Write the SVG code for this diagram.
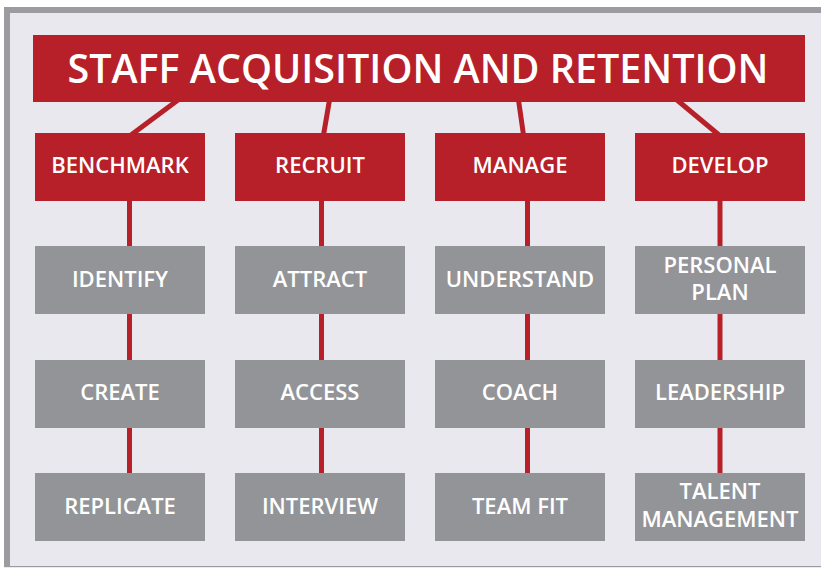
<svg xmlns="http://www.w3.org/2000/svg" width="821" height="569" viewBox="0 0 821 569">
  <style>
    .frame { fill: #e9e8ee; }
    .edge { fill: #9c9ba0; }
    .head { fill: #b72028; }
    .item { fill: #939497; }
    .link { stroke: #b72028; stroke-width: 5; fill: none; }
    .lbl { font-family: "Open Sans", "Liberation Sans", sans-serif; font-weight: 600; fill: #ffffff; text-anchor: middle; }
    .t1 { font-size: 39px; }
    .t2 { font-size: 22px; }
  </style>

  <!-- page and frame -->
  <rect x="0" y="0" width="821" height="569" fill="#ffffff"/>
  <rect class="frame" x="4" y="7" width="817" height="560"/>
  <rect class="edge" x="4" y="7" width="817" height="6"/>
  <rect class="edge" x="4" y="7" width="6" height="560"/>
  <rect class="edge" x="4" y="566" width="817" height="1.2"/>

  <!-- connectors -->
  <g id="connectors">
    <line class="link" x1="178" y1="100" x2="131" y2="135"/>
    <line class="link" x1="329.5" y1="100" x2="323.5" y2="135"/>
    <line class="link" x1="518.5" y1="100" x2="523.5" y2="135"/>
    <line class="link" x1="677" y1="100" x2="719" y2="135"/>
    <line class="link" x1="129.5" y1="200" x2="129.5" y2="475"/>
    <line class="link" x1="321.5" y1="200" x2="321.5" y2="475"/>
    <line class="link" x1="527.5" y1="200" x2="527.5" y2="475"/>
    <line class="link" x1="720" y1="200" x2="720" y2="475"/>
  </g>

  <!-- title -->
  <g id="title">
    <rect class="head" x="33" y="35" width="772" height="67"/>
    <text class="lbl t1" x="418" y="82.7" textLength="701" lengthAdjust="spacingAndGlyphs">STAFF ACQUISITION AND RETENTION</text>
  </g>

  <!-- column heads -->
  <g id="benchmark">
    <rect class="head" x="35" y="133" width="170" height="68"/>
    <text class="lbl t2" x="120" y="173">BENCHMARK</text>
  </g>
  <g id="recruit">
    <rect class="head" x="235" y="133" width="170" height="68"/>
    <text class="lbl t2" x="320" y="173">RECRUIT</text>
  </g>
  <g id="manage">
    <rect class="head" x="435" y="133" width="170" height="68"/>
    <text class="lbl t2" x="520" y="173">MANAGE</text>
  </g>
  <g id="develop">
    <rect class="head" x="635" y="133" width="170" height="68"/>
    <text class="lbl t2" x="720" y="173">DEVELOP</text>
  </g>

  <!-- row 2 -->
  <g id="identify">
    <rect class="item" x="35" y="246" width="170" height="68"/>
    <text class="lbl t2" x="120" y="287">IDENTIFY</text>
  </g>
  <g id="attract">
    <rect class="item" x="235" y="246" width="170" height="68"/>
    <text class="lbl t2" x="320" y="287">ATTRACT</text>
  </g>
  <g id="understand">
    <rect class="item" x="435" y="246" width="170" height="68"/>
    <text class="lbl t2" x="520" y="287">UNDERSTAND</text>
  </g>
  <g id="personal-plan">
    <rect class="item" x="635" y="246" width="170" height="68"/>
    <text class="lbl t2" x="720" y="272.7">PERSONAL</text>
    <text class="lbl t2" x="720" y="300">PLAN</text>
  </g>

  <!-- row 3 -->
  <g id="create">
    <rect class="item" x="35" y="360" width="170" height="68"/>
    <text class="lbl t2" x="120" y="400">CREATE</text>
  </g>
  <g id="access">
    <rect class="item" x="235" y="360" width="170" height="68"/>
    <text class="lbl t2" x="320" y="400">ACCESS</text>
  </g>
  <g id="coach">
    <rect class="item" x="435" y="360" width="170" height="68"/>
    <text class="lbl t2" x="520" y="400">COACH</text>
  </g>
  <g id="leadership">
    <rect class="item" x="635" y="360" width="170" height="68"/>
    <text class="lbl t2" x="720" y="400">LEADERSHIP</text>
  </g>

  <!-- row 4 -->
  <g id="replicate">
    <rect class="item" x="35" y="473" width="170" height="68"/>
    <text class="lbl t2" x="120" y="514">REPLICATE</text>
  </g>
  <g id="interview">
    <rect class="item" x="235" y="473" width="170" height="68"/>
    <text class="lbl t2" x="320" y="514">INTERVIEW</text>
  </g>
  <g id="team-fit">
    <rect class="item" x="435" y="473" width="170" height="68"/>
    <text class="lbl t2" x="520" y="514">TEAM FIT</text>
  </g>
  <g id="talent-management">
    <rect class="item" x="635" y="473" width="170" height="68"/>
    <text class="lbl t2" x="720" y="499">TALENT</text>
    <text class="lbl t2" x="720" y="526.5">MANAGEMENT</text>
  </g>
</svg>
